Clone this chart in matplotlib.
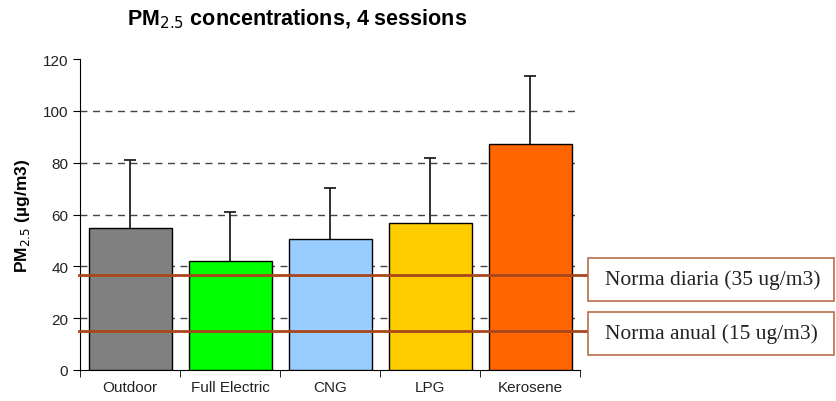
import matplotlib
matplotlib.use("Agg")
import matplotlib.pyplot as plt
from matplotlib.patches import Rectangle

categories = ["Outdoor", "Full Electric", "CNG", "LPG", "Kerosene"]
pm25 = [54.8, 42.1, 50.6, 56.8, 87.3]
upper_err = [26.2, 18.8, 19.7, 24.9, 26.1]
colors = ["#808080", "#00ff00", "#99ccff", "#ffcc00", "#ff6600"]
norm_values = [36.5, 15.2]
norm_labels = ["Norma diaria (35 ug/m3)", "Norma anual (15 ug/m3)"]


def main():
    plt.rcParams["font.family"] = ["Liberation Sans", "DejaVu Sans"]
    fig = plt.figure(figsize=(8.36, 4.02), dpi=100)
    ax = fig.add_axes([80 / 836, 31 / 402, 500 / 836, 311 / 402])

    x = list(range(len(categories)))
    ax.bar(x, pm25, width=0.83, color=colors, edgecolor="black",
           linewidth=1.0, zorder=3)
    # upper error only, cap on top
    tops = [v + e for v, e in zip(pm25, upper_err)]
    ax.errorbar(x, pm25, yerr=[[0] * len(pm25), upper_err], fmt="none",
                ecolor="#222222", elinewidth=1.3, capsize=0, zorder=2)
    ax.plot(x, tops, ls="none", marker="_", ms=9, mew=1.3,
            color="#222222", zorder=2)

    ax.set_xlim(-0.5, len(categories) - 0.5)
    ax.set_ylim(0, 120)
    ax.set_yticks(range(0, 121, 20))
    for yv in range(20, 120, 20):
        ax.axhline(yv, xmin=0, xmax=0.995, color="#444444", lw=1.0,
                   ls=(0, (5, 4)), zorder=1)

    ax.set_xticks(x)
    ax.set_xticklabels(categories, fontsize=11, color="#222222")
    ax.set_xticks([i - 0.5 for i in range(len(categories) + 1)], minor=True)
    ax.tick_params(axis="x", which="major", length=0, pad=7)
    ax.tick_params(axis="x", which="minor", length=5, direction="out")
    ax.tick_params(axis="y", length=5, direction="out", labelsize=11,
                   labelcolor="#222222")
    for s in ("top", "right"):
        ax.spines[s].set_visible(False)

    ax.set_ylabel("PM$_{2.5}$ (µg/m3)", fontsize=12.5, fontweight="bold",
                  labelpad=8)
    fig.text(297 / 836, 1 - 19 / 402,
             "PM$_{2.5}$ concentrations, 4 sessions",
             ha="center", va="center", fontsize=15.5, fontweight="bold")

    # guideline lines and their label boxes
    box_tops = [259, 313]
    for val, label, top in zip(norm_values, norm_labels, box_tops):
        ax.axhline(val, xmin=-0.002, xmax=1.016, color="#a8461c", lw=2,
                   clip_on=False, zorder=4)
        rect = Rectangle((588 / 836, 1 - (top + 43) / 402), 246 / 836,
                         43 / 402, transform=fig.transFigure,
                         facecolor="white", edgecolor="#b8704a", lw=1.2)
        fig.patches.append(rect)
        fig.text(605 / 836, 1 - (top + 21.5) / 402, label,
                 family=["Liberation Serif", "DejaVu Serif"],
                 fontsize=15.5, ha="left", va="center", color="#222222")

    fig.savefig("out.png", dpi=100)


if __name__ == "__main__":
    main()
